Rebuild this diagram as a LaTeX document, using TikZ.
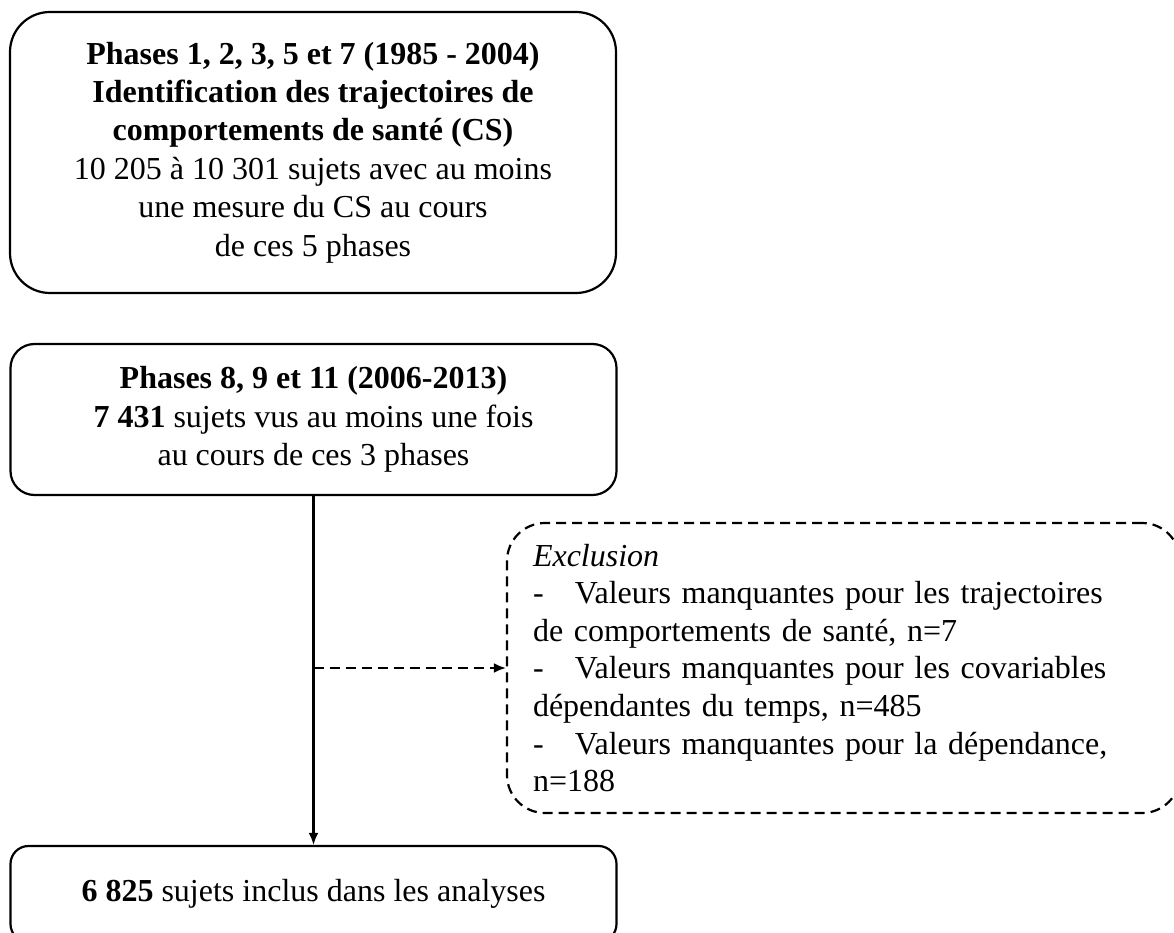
\documentclass[tikz,border=0pt]{standalone}
\usepackage{fontspec}
\setmainfont{Liberation Serif}
\usetikzlibrary{arrows.meta}
\begin{document}
\begin{tikzpicture}[x=1pt, y=-1pt, >={Latex[length=12pt,width=10pt]},
    box/.style={draw, line width=2.2pt, align=center, inner sep=0pt, minimum width=606pt,
        font=\fontsize{32}{38.4}\selectfont},
    exclbox/.style={draw, line width=2.2pt, dash pattern=on 10pt off 6pt, rounded corners=38pt,
        align=left, text width=621pt, inner xsep=26pt, inner ysep=0pt, minimum height=290pt,
        font=\fontsize{32}{37.6}\selectfont}]
    \useasboundingbox (0,0) rectangle (1174,933);
    \clip (0,0) rectangle (1174,933);
    \node[box, rounded corners=40pt, minimum height=281pt] (phA) at (313,152.5)
        {\textbf{Phases 1, 2, 3, 5 et 7 (1985 - 2004)}\\
         \textbf{Identification des trajectoires de}\\
         \textbf{comportements de santé (CS)}\\
         10 205 à 10 301 sujets avec au moins\\
         une mesure du CS au cours\\
         de ces 5 phases};
    \node[box, rounded corners=24pt, minimum height=151pt] (phB) at (313.5,419.5)
        {\textbf{Phases 8, 9 et 11 (2006-2013)}\\
         \textbf{7 431} sujets vus au moins une fois\\
         au cours de ces 3 phases};
    \node[exclbox] (excl) at (843.5,668)
        {\textit{Exclusion}\\
         \makebox[42pt][l]{-}Valeurs manquantes pour les trajectoires\\
         de comportements de santé, n=7\\
         \makebox[42pt][l]{-}Valeurs manquantes pour les covariables\\
         dépendantes du temps, n=485\\
         \makebox[42pt][l]{-}Valeurs manquantes pour la dépendance,\\
         n=188};
    \node[box, rounded corners=18pt, minimum height=96pt] (incl) at (313.5,894)
        {\textbf{6 825} sujets inclus dans les analyses};
    \draw[->, line width=2.2pt] (phB.south) -- (incl.north);
    \coordinate (split) at (phB.south |- excl.west);
    \draw[->, line width=2.2pt, dash pattern=on 10pt off 6pt] (split) -- (excl.west);
\end{tikzpicture}
\end{document}
